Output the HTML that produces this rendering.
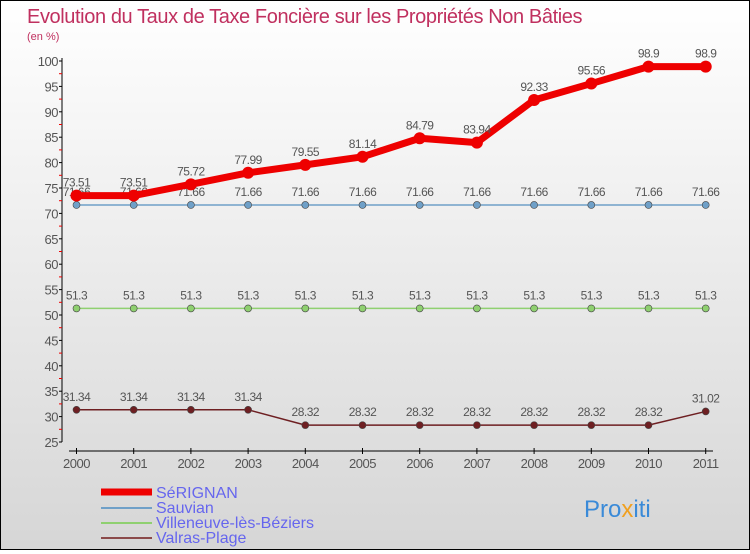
<!DOCTYPE html>
<html><head><meta charset="utf-8"><style>
body{margin:0}
#c{width:748px;height:548px;border:1px solid #000;background:linear-gradient(#ffffff,#d6d6d6);position:relative;font-family:"Liberation Sans",sans-serif}
svg text{font-family:"Liberation Sans",sans-serif}
</style></head><body>
<div id="c">
<svg width="748" height="548" id="s">
<text x="26" y="22" font-size="20" fill="#c0305f" letter-spacing="-0.4">Evolution du Taux de Taxe Foncière sur les Propriétés Non Bâties</text>
<text x="26" y="39" font-size="11" fill="#c0305f">(en %)</text>
<g id="axes"></g><g id="series"></g>
<g>
<line x1="100" y1="491" x2="151" y2="491" stroke="#ee0000" stroke-width="7"/>
<text x="155" y="497" font-size="16" fill="#6666ee">SéRIGNAN</text>
<line x1="100" y1="507" x2="151" y2="507" stroke="#6fa0c8" stroke-width="2"/>
<text x="155" y="512" font-size="16" fill="#6666ee">Sauvian</text>
<line x1="100" y1="522" x2="151" y2="522" stroke="#8fd070" stroke-width="2"/>
<text x="155" y="527" font-size="16" fill="#6666ee">Villeneuve-lès-Béziers</text>
<line x1="100" y1="537" x2="151" y2="537" stroke="#8b4a4a" stroke-width="2"/>
<text x="155" y="542" font-size="16" fill="#6666ee">Valras-Plage</text>
</g>
<g font-size="24">
<text x="583" y="516"><tspan fill="#3a8ad8">Pro</tspan><tspan fill="#f0a020">x</tspan><tspan fill="#3a8ad8">iti</tspan></text>
</g>
</svg></div>
<script>
const years=[2000,2001,2002,2003,2004,2005,2006,2007,2008,2009,2010,2011];
const serignan=[73.51,73.51,75.72,77.99,79.55,81.14,84.79,83.94,92.33,95.56,98.9,98.9];
const sauvian=[71.66,71.66,71.66,71.66,71.66,71.66,71.66,71.66,71.66,71.66,71.66,71.66];
const villeneuve=[51.3,51.3,51.3,51.3,51.3,51.3,51.3,51.3,51.3,51.3,51.3,51.3];
const valras=[31.34,31.34,31.34,31.34,28.32,28.32,28.32,28.32,28.32,28.32,28.32,31.02];
const yTicks=[25,30,35,40,45,50,55,60,65,70,75,80,85,90,95,100];
const NS="http://www.w3.org/2000/svg";
const X=i=>75.5+i*57.2, Y=v=>441-(v-25)*(381/75);
function mk(t,a,p){const e=document.createElementNS(NS,t);for(const k in a)e.setAttribute(k,a[k]);p.appendChild(e);return e;}
const ax=document.getElementById('axes'), sg=document.getElementById('series');
let yl=mk('line',{x1:61,y1:57,x2:61,y2:441,stroke:'#000'},ax);


yTicks.forEach(v=>{
 mk('line',{x1:58,y1:Y(v),x2:61,y2:Y(v),stroke:'#000'},ax);
 if(v<100) mk('line',{x1:58,y1:Y(v+2.5),x2:61,y2:Y(v+2.5),stroke:'#e00'},ax);
 const t=mk('text',{x:57,y:Y(v)+5,'font-size':13,'text-anchor':'end',fill:'#555','letter-spacing':'-0.5'},ax);t.textContent=v;
 
 
});
let xl=mk('line',{x1:68,y1:450,x2:712,y2:450,stroke:'#000'},ax);


years.forEach((y,i)=>{
 mk('line',{x1:X(i),y1:447,x2:X(i),y2:453,stroke:'#000'},ax);
 const t=mk('text',{x:X(i),y:467,'font-size':13,'text-anchor':'middle',fill:'#555','letter-spacing':'-0.5'},ax);t.textContent=y;
 
 
});
function series(d,col,w,r,name){
 const g=mk('g',{},sg);
 
 
 mk('polyline',{points:d.map((v,i)=>X(i)+','+Y(v)).join(' '),fill:'none',stroke:col,'stroke-width':w,'stroke-linejoin':'round'},g);
 d.forEach((v,i)=>{
  const c=mk('circle',{cx:X(i),cy:Y(v),r:r,fill:col,stroke:'#444','stroke-width':w>3?0:0.6},g);
  
  
  const t=mk('text',{x:X(i),y:Y(v)-9,'font-size':12,'text-anchor':'middle',fill:'#555','letter-spacing':'-0.5'},g);t.textContent=v;
  
  
 });
}
series(valras,'#6e1f22',1.5,3.5,'valras');
series(villeneuve,'#8fd070',1.5,3.5,'villeneuve');
series(sauvian,'#6fa0c8',1.5,3.5,'sauvian');
series(serignan,'#ee0000',7,6,'serignan');
</script>
</body></html>
